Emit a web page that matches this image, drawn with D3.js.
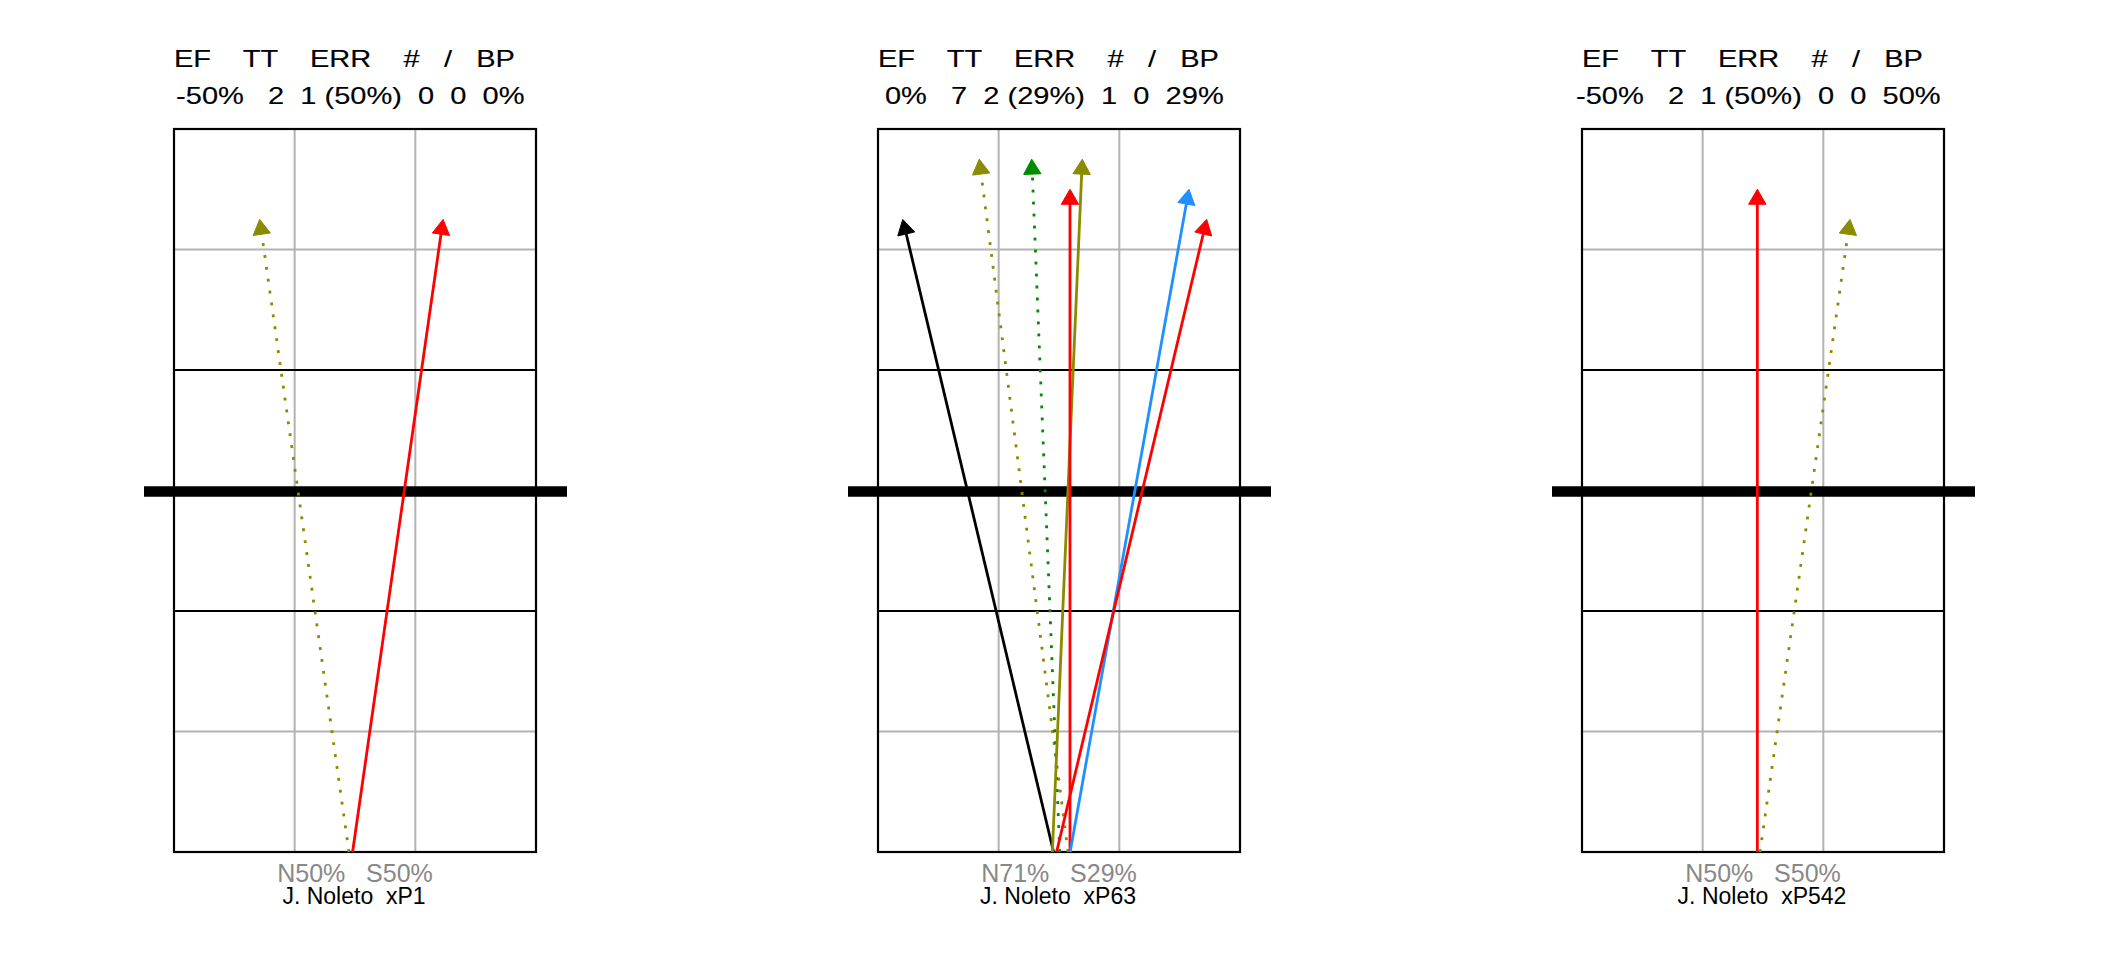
<!DOCTYPE html>
<html><head><meta charset="utf-8">
<script src="https://cdn.jsdelivr.net/npm/d3@7"></script>
<style>
html,body{margin:0;padding:0;background:#fff;}
svg{display:block;font-family:Arial,"Liberation Sans",sans-serif;}
text{white-space:pre;}
</style>
</head><body>
<svg id="chart" width="2112" height="960"></svg>
<script>
// ---------- data ----------
const panelNames = ["J. Noleto  xP1", "J. Noleto  xP63", "J. Noleto  xP542"];
const headerLabels = ["EF", "TT", "ERR", "#", "/", "BP"];
const efVals = ["-50%", "0%", "-50%"];
const ttVals = [2, 7, 2];
const errVals = [1, 2, 1];
const errPct = ["50%", "29%", "50%"];
const hashVals = [0, 1, 0];
const slashVals = [0, 0, 0];
const bpVals = ["0%", "29%", "50%"];
const nPct = ["50%", "71%", "50%"];
const sPct = ["50%", "29%", "50%"];

const xDomain = [-1.5, 1.5];
const yDomain = [0, 6];
const gridXGray = [-0.5, 0.5];
const gridYGray = [1, 5];
const gridYBlack = [2, 4];
const midLineY = 3;

// arrows: panel index, start x, end x, end y (all start at y = 0)
const arrowPanel = [0, 0, 1, 1, 1, 1, 1, 1, 1, 2, 2];
const arrowX0 = [-0.05, -0.02, -0.045, 0.075, 0.006, -0.055, 0.091, 0.092, -0.02, -0.047, -0.025];
const arrowX1 = [-0.79, 0.73, -1.295, -0.661, -0.226, 0.193, 0.091, 1.077, 1.224, -0.047, 0.721];
const arrowY1 = [5.25, 5.25, 5.25, 5.75, 5.75, 5.75, 5.5, 5.5, 5.25, 5.5, 5.25];
const arrowSeries = ["olive", "red", "black", "olive", "green", "olive", "red", "blue", "red", "red", "olive"];
const arrowKind = ["dotted", "solid", "solid", "dotted", "dotted", "solid", "solid", "solid", "solid", "solid", "dotted"];

// ---------- styles ----------
const seriesColor = {olive: "#8b8b00", red: "#ff0000", black: "#000000", green: "#008b00", blue: "#1e90ff"};
const panelStep = 704, plotLeft = 174, plotW = 362, plotTop = 129, plotBottom = 852;
const hScale = 1.21;

const svg = d3.select("#chart");
const x = d3.scaleLinear().domain(xDomain).range([0, plotW]);
const y = d3.scaleLinear().domain(yDomain).range([plotBottom, plotTop]);

const arrows = arrowPanel.map((p, i) => ({
  p, x0: arrowX0[i], y0: 0, x1: arrowX1[i], y1: arrowY1[i],
  color: seriesColor[arrowSeries[i]], kind: arrowKind[i]
}));

panelNames.forEach((name, i) => {
  const g = svg.append("g").attr("transform", `translate(${plotLeft + i * panelStep},0)`);

  // header row 1 (left aligned at plot left)
  g.append("text")
    .attr("transform", `translate(0,67) scale(${hScale},1)`)
    .attr("font-size", 24).attr("fill", "#000")
    .attr("stroke", "#000").attr("stroke-width", 0.15)
    .text(headerLabels.join("    ").replace("#    /    BP", "#   /   BP"));

  // header row 2 (centred)
  const row2 = `${efVals[i]}   ${ttVals[i]}  ${errVals[i]} (${errPct[i]})  ${hashVals[i]}  ${slashVals[i]}  ${bpVals[i]}`;
  g.append("text")
    .attr("transform", `translate(${plotW / 2 - 4.7},104) scale(${hScale},1)`)
    .attr("font-size", 24).attr("text-anchor", "middle").attr("fill", "#000")
    .attr("stroke", "#000").attr("stroke-width", 0.15)
    .text(row2);

  // gray grid
  g.selectAll(".vg").data(gridXGray).enter().append("line")
    .attr("x1", d => x(d)).attr("x2", d => x(d))
    .attr("y1", y(yDomain[1])).attr("y2", y(yDomain[0]))
    .attr("stroke", "#b3b3b3").attr("stroke-width", 2);
  g.selectAll(".hg").data(gridYGray).enter().append("line")
    .attr("x1", x(xDomain[0])).attr("x2", x(xDomain[1]))
    .attr("y1", d => y(d)).attr("y2", d => y(d))
    .attr("stroke", "#b3b3b3").attr("stroke-width", 2);
  // black grid
  g.selectAll(".hb").data(gridYBlack).enter().append("line")
    .attr("x1", x(xDomain[0])).attr("x2", x(xDomain[1]))
    .attr("y1", d => y(d)).attr("y2", d => y(d))
    .attr("stroke", "#000").attr("stroke-width", 2);
  // border
  g.append("rect")
    .attr("x", x(xDomain[0])).attr("y", y(yDomain[1]))
    .attr("width", x(xDomain[1]) - x(xDomain[0])).attr("height", y(yDomain[0]) - y(yDomain[1]))
    .attr("fill", "none").attr("stroke", "#000").attr("stroke-width", 2.2);
  // thick mid line
  g.append("line")
    .attr("x1", x(xDomain[0]) - 30).attr("x2", x(xDomain[1]) + 31)
    .attr("y1", y(midLineY) + 1).attr("y2", y(midLineY) + 1)
    .attr("stroke", "#000").attr("stroke-width", 10.7);

  // arrows
  const headLen = 15, headHalf = 8.7;
  arrows.filter(a => a.p === i).forEach(a => {
    const X0 = x(a.x0), Y0 = y(a.y0), X1 = x(a.x1), Y1 = y(a.y1);
    const dx = X1 - X0, dy = Y1 - Y0, L = Math.hypot(dx, dy);
    const ux = dx / L, uy = dy / L;
    const bx = X1 - ux * headLen, by = Y1 - uy * headLen;
    const px = -uy, py = ux;
    const line = g.append("line")
      .attr("x1", X0).attr("y1", Y0)
      .attr("stroke", a.color);
    if (a.kind === "dotted") {
      line.attr("x2", bx).attr("y2", by)
        .attr("stroke-width", 2.8).attr("stroke-dasharray", "2.9 9.1");
    } else {
      line.attr("x2", bx + ux * 2).attr("y2", by + uy * 2)
        .attr("stroke-width", 2.8);
    }
    g.append("path")
      .attr("d", `M${X1},${Y1}L${bx + px * headHalf},${by + py * headHalf}L${bx - px * headHalf},${by - py * headHalf}Z`)
      .attr("fill", a.color).attr("stroke", a.color).attr("stroke-width", 1);
  });

  // bottom labels
  g.append("text")
    .attr("x", plotW / 2).attr("y", 882)
    .attr("font-size", 25).attr("text-anchor", "middle").attr("fill", "#888888")
    .text(`N${nPct[i]}   S${sPct[i]}`);
  g.append("text")
    .attr("x", plotW / 2 - 1).attr("y", 904)
    .attr("font-size", 23).attr("text-anchor", "middle").attr("fill", "#000")
    .text(name);
});
</script>
</body></html>
